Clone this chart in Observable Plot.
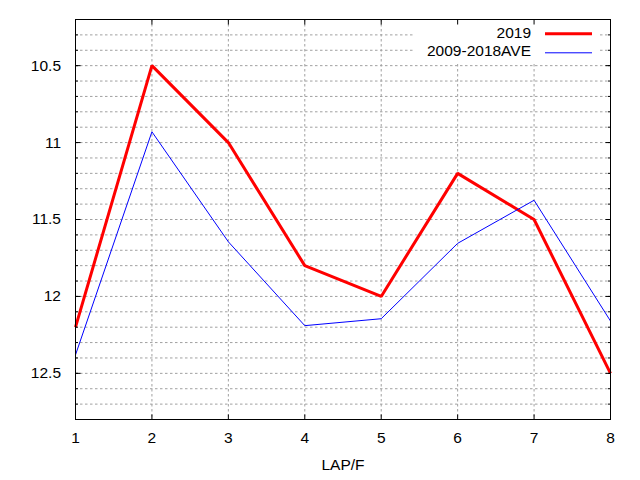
<!DOCTYPE html>
<html>
<head>
<meta charset="utf-8">
<script src="https://cdn.jsdelivr.net/npm/d3@7"></script>
<script src="https://cdn.jsdelivr.net/npm/@observablehq/plot@0.6"></script>
<style>
  html, body { margin: 0; padding: 0; background: #fff; }
</style>
</head>
<body>
<div id="chart"></div>
<script>
// ---- data ----
const laps = [1, 2, 3, 4, 5, 6, 7, 8];
const values2019 = [12.2, 10.5, 11.0, 11.8, 12.0, 11.2, 11.5, 12.5];
const valuesAve = [12.38, 10.93, 11.645, 12.19, 12.145, 11.655, 11.375, 12.16];
const seriesNames = ["2019", "2009-2018AVE"];
const seriesColors = ["#ff0000", "#0000ff"];
const seriesWidths = [3, 1];
const xTicks = [1, 2, 3, 4, 5, 6, 7, 8];
const xGrid = [2, 3, 4, 5, 6, 7];
const yMajorTicks = [10.5, 11, 11.5, 12, 12.5];
const yMinorTicks = [10.3, 10.4, 10.5, 10.6, 10.7, 10.8, 10.9, 11.0, 11.1, 11.2, 11.3, 11.4, 11.5, 11.6, 11.7, 11.8, 11.9, 12.0, 12.1, 12.2, 12.3, 12.4, 12.5, 12.6, 12.7];
const xDomain = [1, 8];
const yDomain = [10.2, 12.8];
const xLabel = "LAP/F";

const rows = [];
laps.forEach((lap, i) => {
  rows.push({lap, value: values2019[i], series: seriesNames[0]});
  rows.push({lap, value: valuesAve[i], series: seriesNames[1]});
});

// simple line-segment shape for vectors (ticks, legend samples)
const segment = {draw(context, l) { context.moveTo(0, 0); context.lineTo(0, -l); }};
const boxShape = {draw(context) { context.rect(0, 0, 185, 43); }};

const gridStyle = {stroke: "#a0a0a0", strokeOpacity: 1, strokeWidth: 1, strokeDasharray: "2.5,2.5"};
const tickStyle = {shape: segment, anchor: "start", stroke: "black", strokeWidth: 1, strokeLinecap: "butt"};

const marks = [
  Plot.gridY(yMinorTicks, {y: d => d, ...gridStyle}),
  Plot.gridX(xGrid, {x: d => d, ...gridStyle}),
  // legend background
  Plot.vector([0], {frameAnchor: "top-right", dx: -197, dy: 0, length: 1, shape: boxShape, fill: "white", stroke: "none"}),
];

seriesNames.forEach((name, i) => {
  marks.push(Plot.line(rows.filter(r => r.series === name), {
    x: "lap", y: "value", stroke: seriesColors[i], strokeWidth: seriesWidths[i],
    strokeLinejoin: "miter", strokeLinecap: "butt"
  }));
});

marks.push(
  Plot.frame({stroke: "black", strokeWidth: 1}),
  // y ticks, left and right, major and minor
  Plot.vector(yMajorTicks, {y: d => d, frameAnchor: "left", rotate: 90, length: 5, ...tickStyle}),
  Plot.vector(yMinorTicks, {y: d => d, frameAnchor: "left", rotate: 90, length: 2.5, ...tickStyle}),
  Plot.vector(yMajorTicks, {y: d => d, frameAnchor: "right", rotate: -90, length: 5, ...tickStyle}),
  Plot.vector(yMinorTicks, {y: d => d, frameAnchor: "right", rotate: -90, length: 2.5, ...tickStyle}),
  // x ticks, bottom and top
  Plot.vector(xTicks, {x: d => d, frameAnchor: "bottom", rotate: 0, length: 5, ...tickStyle}),
  Plot.vector(xTicks, {x: d => d, frameAnchor: "top", rotate: 180, length: 5, ...tickStyle}),
  Plot.axisY(yMajorTicks, {tickSize: 0, tickPadding: 14.5, tickFormat: d => String(d), label: null, fill: "black"}),
  Plot.axisX(xTicks, {tickSize: 0, tickPadding: 12.5, tickFormat: d => String(d), label: null, fill: "black"}),
  Plot.text([xLabel], {text: d => d, frameAnchor: "bottom", lineAnchor: "middle", dy: 46, fill: "black"})
);

// legend
const legendDy = [13.5, 32];
const sampleDy = [14.3, 33.3];
seriesNames.forEach((name, i) => {
  marks.push(Plot.text([name], {text: d => d, frameAnchor: "top-right", lineAnchor: "middle", dx: -79.5, dy: legendDy[i], textAnchor: "end", fill: "black"}));
  marks.push(Plot.vector([name], {frameAnchor: "top-right", dx: -65.5, dy: sampleDy[i], rotate: 90, length: 47,
    shape: segment, anchor: "start", stroke: seriesColors[i], strokeWidth: seriesWidths[i], strokeLinecap: "butt"}));
});

const chart = Plot.plot({
  width: 640,
  height: 480,
  marginLeft: 75,
  marginRight: 30,
  marginTop: 19,
  marginBottom: 61,
  style: {fontFamily: "'Liberation Sans', Arial, sans-serif", fontSize: "15.5px", background: "white", color: "black"},
  x: {domain: xDomain, type: "linear"},
  y: {domain: yDomain, reverse: true, type: "linear"},
  marks
});
document.getElementById("chart").appendChild(chart);
</script>
</body>
</html>
